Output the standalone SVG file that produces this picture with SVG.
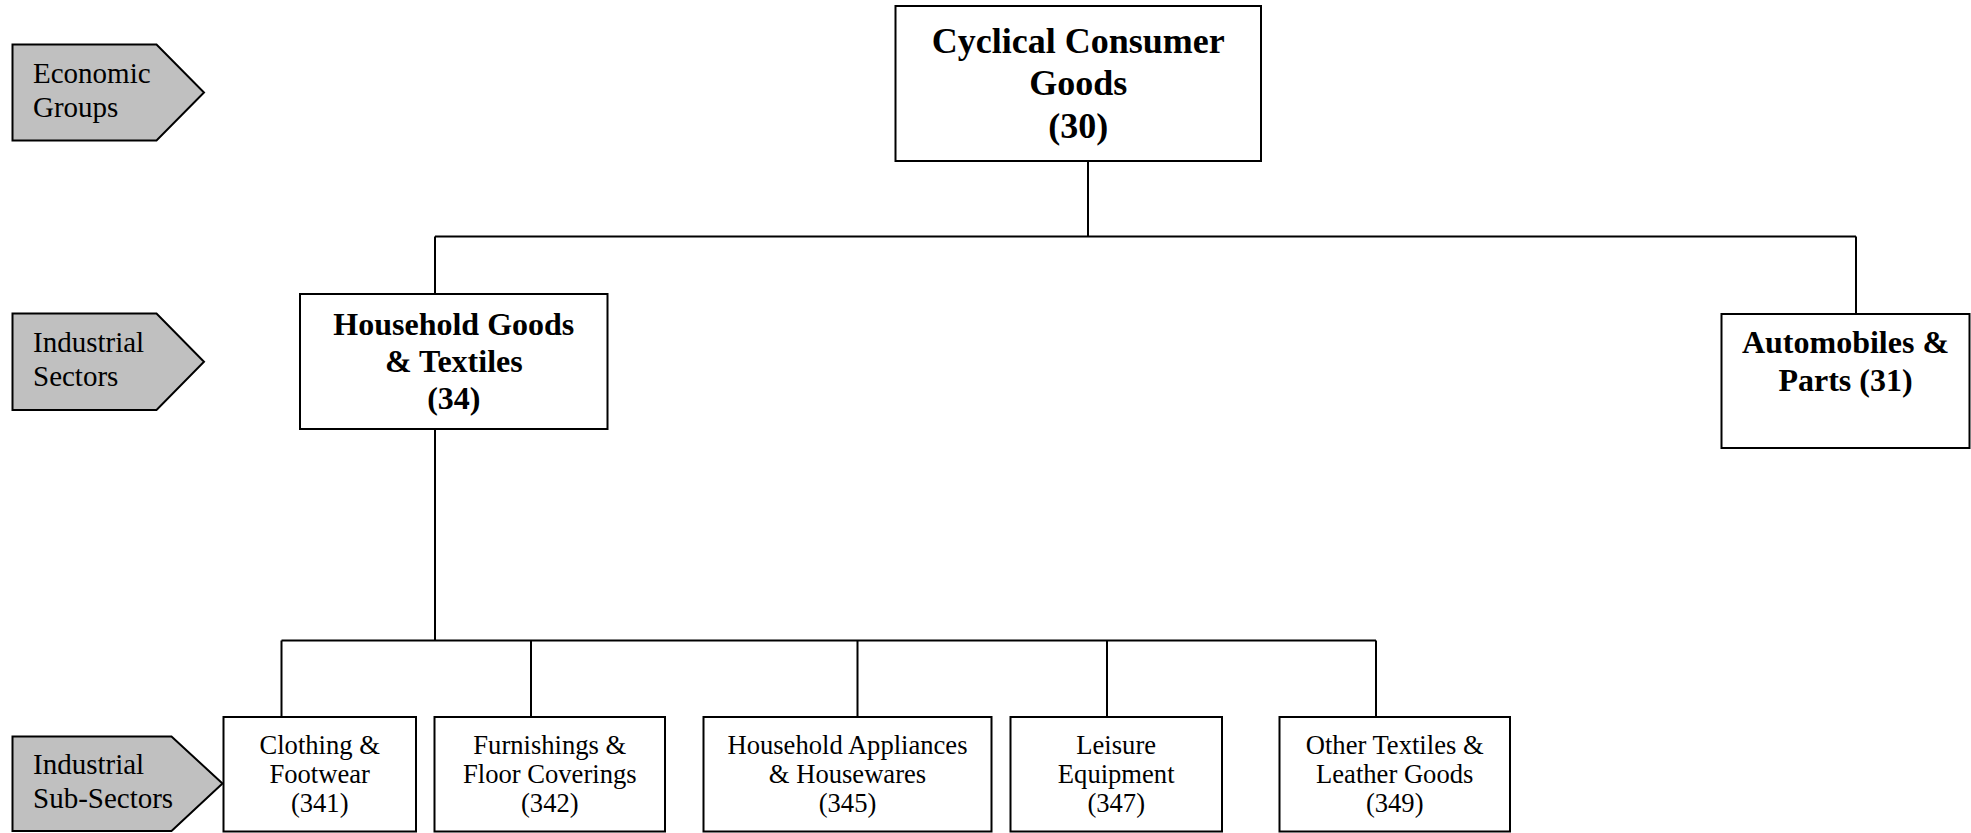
<svg xmlns="http://www.w3.org/2000/svg" width="1971" height="833" viewBox="0 0 1971 833">
<style>
.box{fill:#ffffff;stroke:#000000;stroke-width:2}
.lbl{fill:#c0c0c0;stroke:#000000;stroke-width:2}
.con{fill:none;stroke:#000000;stroke-width:2}
text{font-family:"Liberation Serif","Times New Roman",serif;fill:#000000}
.t1{font-size:36px;font-weight:bold;text-anchor:middle}
.t2{font-size:32px;font-weight:bold;text-anchor:middle}
.t3{font-size:26.6px;text-anchor:middle}
.tl{font-size:29px}
</style>
<rect width="1971" height="833" fill="#ffffff"/>
<g id="connectors">
<path class="con" d="M1088 161V236.5M435 236.5H1856M435 236.5V294M1856 236.5V314"/>
<path class="con" d="M435 429V640.5M281.5 640.5H1376M281.5 640.5V717M531 640.5V717M857.5 640.5V717M1107 640.5V717M1376 640.5V717"/>
</g>
<g id="label-economic-groups">
<polygon class="lbl" points="12.5,44.5 156.5,44.5 204,92.5 156.5,140.5 12.5,140.5"/>
<text class="tl" x="33" y="83">Economic</text>
<text class="tl" x="33" y="116.5">Groups</text>
</g>
<g id="label-industrial-sectors">
<polygon class="lbl" points="12.5,313.5 156.5,313.5 204,361.7 156.5,410 12.5,410"/>
<text class="tl" x="33" y="352">Industrial</text>
<text class="tl" x="33" y="385.5">Sectors</text>
</g>
<g id="label-industrial-sub-sectors">
<polygon class="lbl" points="12.5,736.5 171.5,736.5 222.5,783.5 171.5,831 12.5,831"/>
<text class="tl" x="33" y="774">Industrial</text>
<text class="tl" x="33" y="808">Sub-Sectors</text>
</g>
<g id="node-30">
<rect class="box" x="895.5" y="6" width="365.5" height="155"/>
<text class="t1" x="1078.3" y="53">Cyclical Consumer</text>
<text class="t1" x="1078.3" y="95">Goods</text>
<text class="t1" x="1078.3" y="138">(30)</text>
</g>
<g id="node-34">
<rect class="box" x="300" y="294" width="307.5" height="135"/>
<text class="t2" x="453.8" y="334.5">Household Goods</text>
<text class="t2" x="453.8" y="371.5">&amp; Textiles</text>
<text class="t2" x="453.8" y="408.5">(34)</text>
</g>
<g id="node-31">
<rect class="box" x="1721.5" y="314" width="248" height="134"/>
<text class="t2" x="1845.5" y="352.5">Automobiles &amp;</text>
<text class="t2" x="1845.5" y="390.5">Parts (31)</text>
</g>
<g id="node-341">
<rect class="box" x="223.5" y="717" width="192.5" height="114.5"/>
<text class="t3" x="319.7" y="754">Clothing &amp;</text>
<text class="t3" x="319.7" y="783">Footwear</text>
<text class="t3" x="319.7" y="812">(341)</text>
</g>
<g id="node-342">
<rect class="box" x="434.5" y="717" width="230.5" height="114.5"/>
<text class="t3" x="549.8" y="754">Furnishings &amp;</text>
<text class="t3" x="549.8" y="783">Floor Coverings</text>
<text class="t3" x="549.8" y="812">(342)</text>
</g>
<g id="node-345">
<rect class="box" x="703.5" y="717" width="288" height="114.5"/>
<text class="t3" x="847.5" y="754">Household Appliances</text>
<text class="t3" x="847.5" y="783">&amp; Housewares</text>
<text class="t3" x="847.5" y="812">(345)</text>
</g>
<g id="node-347">
<rect class="box" x="1010.5" y="717" width="211.5" height="114.5"/>
<text class="t3" x="1116.2" y="754">Leisure</text>
<text class="t3" x="1116.2" y="783">Equipment</text>
<text class="t3" x="1116.2" y="812">(347)</text>
</g>
<g id="node-349">
<rect class="box" x="1279.5" y="717" width="230.5" height="114.5"/>
<text class="t3" x="1394.7" y="754">Other Textiles &amp;</text>
<text class="t3" x="1394.7" y="783">Leather Goods</text>
<text class="t3" x="1394.7" y="812">(349)</text>
</g>
</svg>
